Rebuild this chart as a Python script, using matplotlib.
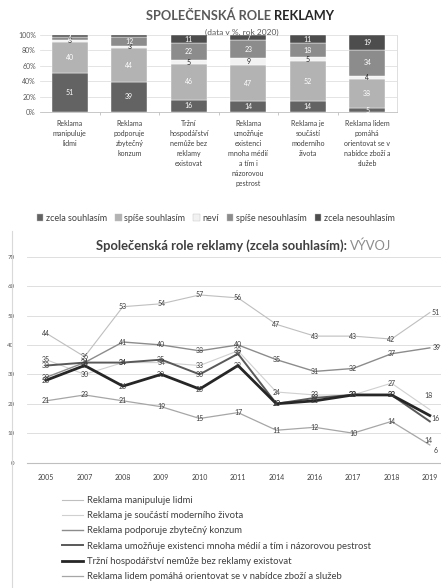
import matplotlib.pyplot as plt
from matplotlib.lines import Line2D
from matplotlib.patches import Patch
import numpy as np

plt.rcParams['font.family'] = ['Lato', 'DejaVu Sans']

# --- bar chart data (rok 2020, %) ---
bar_categories = [
    "Reklama\nmanipuluje\nlidmi",
    "Reklama\npodporuje\nzbytečný\nkonzum",
    "Tržní\nhospodářství\nnemůže bez\nreklamy\nexistovat",
    "Reklama\numožňuje\nexistenci\nmnoha médií\na tím i\nnázorovou\npestrost",
    "Reklama je\nsoučástí\nmoderního\nživota",
    "Reklama lidem\npomáhá\norientovat se v\nnabídce zboží a\nslužeb",
]
answers = ["zcela souhlasím", "spíše souhlasím", "neví", "spíše nesouhlasím", "zcela nesouhlasím"]
zcela_souhlasim = [51, 39, 16, 14, 14, 5]
spise_souhlasim = [40, 44, 46, 47, 52, 38]
nevi = [3, 3, 5, 9, 5, 4]
spise_nesouhlasim = [4, 12, 22, 23, 18, 34]
zcela_nesouhlasim = [2, 2, 11, 7, 11, 19]

# --- line chart data (zcela souhlasím, %) ---
years = ["2005", "2007", "2008", "2009", "2010", "2011", "2014", "2016", "2017", "2018", "2019"]
series_names = [
    "Reklama manipuluje lidmi",
    "Reklama je součástí moderního života",
    "Reklama podporuje zbytečný konzum",
    "Reklama umožňuje existenci mnoha médií a tím i názorovou pestrost",
    "Tržní hospodářství nemůže bez reklamy existovat",
    "Reklama lidem pomáhá orientovat se v nabídce zboží a služeb",
]
manipuluje = [44, 36, 53, 54, 57, 56, 47, 43, 43, 42, 51]
soucast = [35, 30, 34, 34, 33, 38, 24, 23, 23, 27, 18]
konzum = [29, 34, 41, 40, 38, 40, 35, 31, 32, 37, 39]
media = [33, 34, 34, 35, 30, 37, 20, 22, 23, 23, 14]
trzni = [28, 33, 26, 30, 25, 33, 20, 21, 23, 23, 16]
orientace = [21, 23, 21, 19, 15, 17, 11, 12, 10, 14, 6]

W, H = 441, 588
fig = plt.figure(figsize=(W / 100, H / 100), dpi=100)

# ================= stacked bars =================
ax1 = fig.add_axes([40 / W, 1 - 112 / H, (397 - 40) / W, (112 - 35) / H])
x = np.arange(len(bar_categories))
stack = [zcela_souhlasim, spise_souhlasim, nevi, spise_nesouhlasim, zcela_nesouhlasim]
colors = ['#636363', '#b3b3b3', '#f2f2f2', '#8c8c8c', '#4d4d4d']
text_colors = ['white', 'white', '#262626', 'white', 'white']
bottom = np.zeros(len(x))
for vals, c, tc in zip(stack, colors, text_colors):
    vals = np.array(vals)
    bars = ax1.bar(x, vals, width=0.6, bottom=bottom, color=c, edgecolor='white', linewidth=0.3)
    ax1.bar_label(bars, labels=[str(v) if v > 2 else "" for v in vals], label_type='center',
                  color=tc, fontsize=5)
    bottom += vals

ax1.set_xlim(-0.5, 5.5)
ax1.set_ylim(0, 100)
ax1.set_yticks(range(0, 101, 20))
ax1.set_yticklabels([f"{v}%" for v in range(0, 101, 20)], fontsize=5, color='#595959')
ax1.yaxis.grid(True, color='#d9d9d9', linewidth=0.5)
ax1.set_axisbelow(True)
ax1.set_xticks(x)
ax1.set_xticklabels(bar_categories, fontsize=5, color='#404040', linespacing=1.5, va='top')
ax1.set_xticks(np.arange(0.5, 5.5, 1), minor=True)
ax1.tick_params(axis='x', which='major', length=0, pad=6)
ax1.tick_params(axis='x', which='minor', length=2, color='#bfbfbf')
ax1.tick_params(axis='y', length=0, pad=3)
for s in ['top', 'left']:
    ax1.spines[s].set_visible(False)
ax1.spines['right'].set_color('#d9d9d9')
ax1.spines['bottom'].set_color('#bfbfbf')
ax1.spines['right'].set_linewidth(0.6)
ax1.spines['bottom'].set_linewidth(0.6)

fig.text(274 / W, 1 - 16 / H, "SPOLEČENSKÁ ROLE ", ha='right', va='center',
         fontsize=9.2, fontweight='bold', color='#595959')
fig.text(274 / W, 1 - 16 / H, "REKLAMY", ha='left', va='center',
         fontsize=9.2, fontweight='bold', color='#262626')
fig.text(242 / W, 1 - 32 / H, "(data v %, rok 2020)", ha='center', va='center',
         fontsize=6, color='#595959')

bar_handles = [Patch(facecolor=c, edgecolor='#bfbfbf', linewidth=0.3) for c in colors]
fig.legend(bar_handles, answers, loc='center', bbox_to_anchor=(216 / W, 1 - 218 / H),
           ncol=5, fontsize=6.5, frameon=False, handlelength=0.7, handleheight=0.7,
           handletextpad=0.3, columnspacing=0.9, labelcolor='#404040')

# ================= line chart =================
ax2 = fig.add_axes([27 / W, 1 - 462.6 / H, (449 - 27) / W, (462.6 - 256.7) / H])
line_data = [manipuluje, soucast, konzum, media, trzni, orientace]
line_colors = ['#bfbfbf', '#d0d0d0', '#8c8c8c', '#595959', '#262626', '#a6a6a6']
line_widths = [0.8, 0.8, 1.0, 1.4, 2.0, 0.9]
last_offsets = [(4, 0), (-1, 10), (5, 0), (-1, -14), (4, -2), (4, -4)]
xi = np.arange(len(years))
handles = []
for vals, c, lw, off in zip(line_data, line_colors, line_widths, last_offsets):
    ln, = ax2.plot(xi, vals, color=c, linewidth=lw, solid_joinstyle='miter')
    handles.append(ln)
    for i, v in enumerate(vals):
        if i == len(vals) - 1:
            ax2.annotate(str(v), (xi[i], v), xytext=off, textcoords='offset points',
                         ha='center', va='center', fontsize=5, color='#404040')
        else:
            ax2.text(xi[i], v, str(v), ha='center', va='center', fontsize=5, color='#404040')

ax2.set_xlim(-0.5, len(years) - 0.5)
ax2.set_ylim(0, 70)
ax2.set_yticks(range(0, 71, 10))
ax2.set_yticklabels([str(v) for v in range(0, 71, 10)], fontsize=4.5, color='#595959')
ax2.yaxis.grid(True, color='#d9d9d9', linewidth=0.6)
ax2.set_axisbelow(True)
ax2.set_xticks(xi)
ax2.set_xticklabels(years, fontsize=5, color='#404040')
ax2.tick_params(axis='x', length=0, pad=8)
ax2.tick_params(axis='y', length=0, pad=9)
for s in ['top', 'left', 'right']:
    ax2.spines[s].set_visible(False)
ax2.spines['bottom'].set_color('#bfbfbf')
ax2.spines['bottom'].set_linewidth(0.8)

fig.text(350 / W, 1 - 246 / H, "Společenská role reklamy (zcela souhlasím): ", ha='right',
         va='center', fontsize=9.4, fontweight='bold', color='#404040')
fig.text(350 / W, 1 - 246 / H, "VÝVOJ", ha='left', va='center', fontsize=9.4, color='#8c8c8c')

# chart border on the left
fig.add_artist(Line2D([12 / W, 12 / W], [0, 1 - 231 / H], color='#d9d9d9', linewidth=0.8))

fig.legend(handles, series_names, loc='upper left', bbox_to_anchor=(62 / W, 1 - 496 / H),
           fontsize=6.8, frameon=False, handlelength=2.2, labelspacing=0.66,
           handletextpad=0.4, labelcolor='#404040', borderaxespad=0, borderpad=0)

fig.savefig('out.png', dpi=100)
